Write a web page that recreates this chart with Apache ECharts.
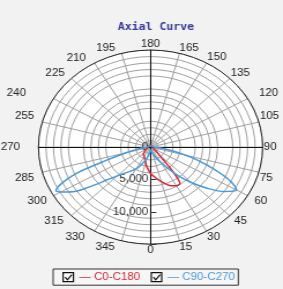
<!DOCTYPE html>
<html>
<head>
<meta charset="utf-8">
<script src="https://cdn.jsdelivr.net/npm/echarts@6/dist/echarts.min.js"></script>
<style>
html,body{margin:0;padding:0;background:#f2f2f2;overflow:hidden;}
#c{width:245px;height:289px;transform:scaleX(1.155);transform-origin:0 0;}
</style>
</head>
<body>
<div id="c"></div>
<script>
// Title / legend
const titleText = 'Axial Curve';
const seriesNames = ['C0-C180', 'C90-C270'];
const seriesColors = ['#d42a3a', '#4a9ad6'];
// Radius ticks
const radiusMax = 15000;
const radiusInterval = 5000;
// Angle ticks
const angleInterval = 15;

// C0-C180 (red) : angle (deg) and intensity (cd)
const redAngles = [0, 5, 10, 15, 20, 25, 30, 35, 37, 39, 41, 45, 50, 55, 60, 70, 90, 120, 150, 180, 210, 240, 270, 300, 310, 320, 330, 340, 350, 355, 360];
const redValues = [4100, 4500, 5000, 5500, 6100, 6600, 6900, 6850, 6000, 4200, 2500, 1500, 900, 700, 550, 400, 300, 250, 250, 250, 250, 280, 330, 700, 1000, 1500, 1700, 2150, 3000, 3500, 4100];

// C90-C270 (blue)
const blueAngles = [0, 10, 20, 25, 30, 35, 40, 45, 50, 55, 60, 63, 66, 70, 74, 78, 82, 86, 90, 120, 150, 180, 210, 240, 270, 275, 280, 285, 289, 292, 295, 298, 301, 304, 308, 311, 315, 320, 325, 331, 336, 342, 348, 354, 360];
const blueValues = [400, 600, 1300, 1900, 2700, 4000, 5800, 7800, 9900, 12000, 13300, 12300, 10600, 8000, 5500, 3300, 1800, 900, 500, 250, 200, 200, 200, 250, 500, 900, 1800, 3500, 6200, 10500, 13000, 14350, 13500, 12300, 9500, 7700, 6300, 5200, 4500, 3750, 2900, 2000, 1300, 800, 400];

function pairs(a, v) { return a.map((ang, i) => [v[i], ang]); }

const chart = echarts.init(document.getElementById('c'), null, {renderer: 'canvas'});

const centerPos = ['53.2%', '50.9%'];
const R = 97;

// per-label nudges for the angle labels (style only)
const labelNudge = {
  15: {padding: [0, 0, 0, 10]},
  45: {padding: [0, 0, 0, 3]},
  60: {padding: [0, 0, 0, 5]},
  75: {padding: [12, 0, 0, 0]},
  105: {padding: [0, 0, 10, 0]},
  120: {padding: [0, 0, 0, 9]},
  165: {padding: [0, 0, 0, 16], lineHeight: 8},
  195: {padding: [0, 27, 0, 0], lineHeight: 8},
  210: {padding: [0, 7, 0, 0], lineHeight: 7},
  225: {padding: [0, 5, 0, 0]},
  240: {padding: [0, 23, 0, 0]},
  255: {padding: [0, 6, 10, 0]},
  270: {padding: [0, 15, 0, 0]},
  285: {padding: [12, 6, 0, 0]},
  300: {padding: [0, 5, 0, 0]},
  315: {padding: [0, 6, 0, 0]},
  330: {padding: [0, 8, 0, 0]},
  345: {padding: [0, 28, 0, 0]}
};
const rich = {};
Object.keys(labelNudge).forEach(k => {
  rich['a' + k] = Object.assign({fontSize: 10, color: '#222', fontFamily: 'Liberation Sans'}, labelNudge[k]);
});

function hiddenPolarAxes(idx, start) {
  return {
    angle: {polarIndex: idx, type: 'value', min: 0, max: 360, startAngle: start, clockwise: false, show: false},
    radius: {polarIndex: idx, type: 'value', min: 0, max: radiusMax,
      axisLine: {show: true, lineStyle: {color: '#111', width: 1}},
      axisTick: {show: false}, axisLabel: {show: false}, splitLine: {show: false}}
  };
}
const extra = [hiddenPolarAxes(1, 90), hiddenPolarAxes(2, 0), hiddenPolarAxes(3, 180)];

const option = {
  animation: false,
  title: {
    text: titleText, left: 130, top: 17, textAlign: 'center',
    textStyle: {fontFamily: 'DejaVu Sans Mono', fontSize: 10, fontWeight: 'bold', color: '#3a3a9c'}
  },
  polar: [
    {center: centerPos, radius: R},
    {center: centerPos, radius: R},
    {center: centerPos, radius: R},
    {center: centerPos, radius: R}
  ],
  angleAxis: [{
    polarIndex: 0, type: 'value', min: 0, max: 360, interval: angleInterval,
    startAngle: 270, clockwise: false,
    axisLine: {show: true, lineStyle: {color: '#222', width: 1}},
    axisTick: {show: false},
    splitLine: {show: true, lineStyle: {color: '#a0a0a0', width: 1}},
    axisLabel: {
      margin: 1, color: '#222', fontFamily: 'Liberation Sans', fontSize: 10,
      formatter: function (v) {
        if (v === 360) return '';
        if (labelNudge[v] !== undefined) return '{a' + v + '|' + v + '}';
        return String(v);
      },
      rich: rich
    }
  }].concat(extra.map(e => e.angle)),
  radiusAxis: [{
    polarIndex: 0, type: 'value', min: 0, max: radiusMax, interval: radiusInterval,
    axisLine: {show: true, lineStyle: {color: '#111', width: 1}},
    axisTick: {show: true, inside: true, length: 5, lineStyle: {color: '#333'}},
    axisLabel: {
      show: true, margin: -2, align: 'right', color: '#333', fontFamily: 'Liberation Sans', fontSize: 10,
      formatter: function (v) { return v >= radiusMax ? '' : v.toLocaleString('en-US'); }
    },
    splitLine: {show: true, lineStyle: {color: '#a0a0a0', width: 1}},
    minorTick: {show: false, splitNumber: 5},
    minorSplitLine: {show: true, lineStyle: {color: '#a0a0a0', width: 1}},
    splitArea: {show: true, areaStyle: {color: ['#ffffff']}}
  }].concat(extra.map(e => e.radius)),
  legend: {
    left: 46, top: 269, orient: 'horizontal',
    padding: [3, 3, 3, 8], itemGap: 9, itemWidth: 9, itemHeight: 9,
    borderColor: '#333', borderWidth: 1, backgroundColor: '#f6f6f6',
    icon: 'path://M0,0H10V10H0Z M2,5L4.2,8L8.5,2.2',
    textStyle: {fontFamily: 'Liberation Sans', fontSize: 10},
    formatter: function (n) { return '\u2014 ' + n; },
    data: seriesNames.map((n, i) => ({
      name: n,
      itemStyle: {color: '#ffffff', borderColor: '#111', borderWidth: 1.2},
      textStyle: {color: seriesColors[i]}
    }))
  },
  series: [
    {name: seriesNames[0], type: 'line', coordinateSystem: 'polar', polarIndex: 0,
      data: pairs(redAngles, redValues), showSymbol: false, smooth: 0.3,
      lineStyle: {color: seriesColors[0], width: 1.5}, itemStyle: {color: seriesColors[0]}},
    {name: seriesNames[1], type: 'line', coordinateSystem: 'polar', polarIndex: 0,
      data: pairs(blueAngles, blueValues), showSymbol: false, smooth: 0.3,
      lineStyle: {color: seriesColors[1], width: 1.5}, itemStyle: {color: seriesColors[1]}}
  ]
};
chart.setOption(option);
</script>
</body>
</html>
